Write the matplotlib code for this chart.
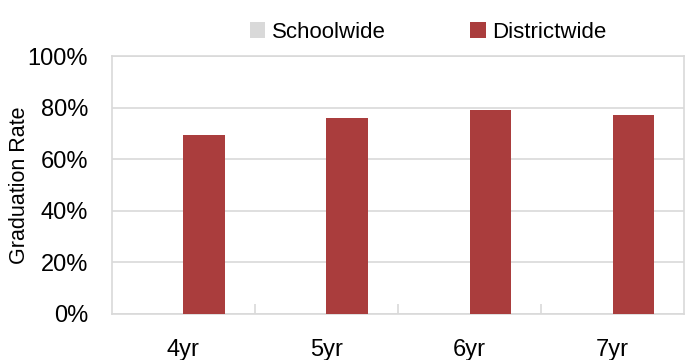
import matplotlib
matplotlib.use("Agg")
import matplotlib.pyplot as plt
import numpy as np
from matplotlib.ticker import FixedLocator, PercentFormatter

categories = ["4yr", "5yr", "6yr", "7yr"]
schoolwide = [0, 0, 0, 0]
districtwide = [69.5, 76, 79, 77]
yticks = [0, 20, 40, 60, 80, 100]

plt.rcParams['font.family'] = ['Liberation Sans', 'DejaVu Sans']

fig = plt.figure(figsize=(6.94, 3.6), dpi=100)
ax = fig.add_axes([0.161, 0.128, 0.825, 0.716])

x = np.arange(len(categories))
w = 0.29
ax.bar(x - w/2, schoolwide, w, color="#d9d9d9", label="Schoolwide", zorder=3)
ax.bar(x + w/2, districtwide, w, color="#aa3d3d", label="Districtwide", zorder=3)

ax.set_xlim(-0.5, len(categories) - 0.5)
ax.set_ylim(0, 100)
ax.set_yticks(yticks)
ax.yaxis.set_major_formatter(PercentFormatter(decimals=0))
ax.set_xticks(x)
ax.set_xticklabels(categories)
ax.xaxis.set_minor_locator(FixedLocator(np.arange(0.5, len(categories) - 1, 1.0)))

ax.grid(axis="y", color="#d9d9d9", linewidth=1.2, zorder=0)
for s in ax.spines.values():
    s.set_color("#d9d9d9")
    s.set_linewidth(1.2)

ax.tick_params(axis="y", length=0, pad=17, labelsize=17)
ax.tick_params(axis="x", which="major", length=0, pad=18, labelsize=17)
ax.tick_params(axis="x", which="minor", direction="in", length=7, color="#d9d9d9", width=1.2)

ax.set_ylabel("Graduation Rate", fontsize=15.5)
ax.yaxis.set_label_coords(20 / 694, 0.5, transform=fig.transFigure)
ax.yaxis.label.set_va("center")
ax.yaxis.label.set_position((20 / 694, 175 / 360))

leg = ax.legend(loc="lower center", bbox_to_anchor=(0.553, 1.0), ncol=2, frameon=False,
                fontsize=16, handlelength=0.7, handleheight=0.7, handletextpad=0.3,
                columnspacing=3.8, borderaxespad=0.2)

fig.savefig("out.png", dpi=100)
